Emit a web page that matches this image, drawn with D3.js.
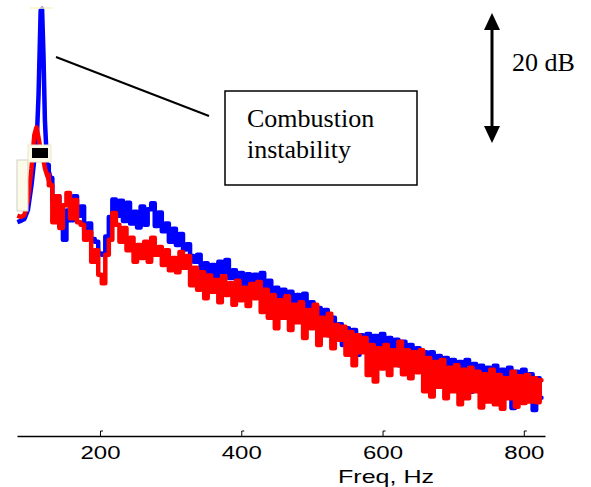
<!DOCTYPE html>
<html>
<head>
<meta charset="utf-8">
<script src="https://cdn.jsdelivr.net/npm/d3@7"></script>
<style>
  body { margin: 0; background: #fff; }
  svg { display: block; }
</style>
</head>
<body>
<div class="chart"></div>
<script>
// frequency grid (Hz)
const freq = [83, 88, 93, 98, 103, 107, 110, 113, 116, 118, 120, 122, 125,
  130, 135, 140, 145, 150, 155, 160, 165, 170, 175,
  180, 185, 190, 195, 200, 205, 210, 215, 220, 225,
  230, 235, 240, 245, 250, 255, 260, 265, 270, 275,
  280, 285, 290, 295, 300, 305, 310, 315, 320, 325,
  330, 335, 340, 345, 350, 355, 360, 365, 370, 375,
  380, 385, 390, 395, 400, 405, 410, 415, 420, 425,
  430, 435, 440, 445, 450, 455, 460, 465, 470, 475,
  480, 485, 490, 495, 500, 505, 510, 515, 520, 525,
  530, 535, 540, 545, 550, 555, 560, 565, 570, 575,
  580, 585, 590, 595, 600, 605, 610, 615, 620, 625,
  630, 635, 640, 645, 650, 655, 660, 665, 670, 675,
  680, 685, 690, 695, 700, 705, 710, 715, 720, 725,
  730, 735, 740, 745, 750, 755, 760, 765, 770, 775,
  780, 785, 790, 795, 800, 805, 810, 815, 820, 825]

// relative level, dB (blue = unstable case)
const blueDb = [-32.8, -32.6, -32.3, -30.9, -27.1, -23.2, -21.4, -13.2, -0.2, 0, -7.1, -17.1, -24.0,
  -26.0, -29.5, -28.8, -33.5, -35.5, -31.0, -32.5, -28.8, -31.8, -30.4,
  -33.9, -33.0, -35.4, -35.8, -37.6, -37.8, -35.0, -32.0, -29.3, -31.8,
  -29.5, -32.6, -29.8, -33.0, -31.2, -33.6, -30.4, -33.2, -30.8, -29.9,
  -33.4, -31.3, -34.2, -33.0, -35.8, -33.8, -36.3, -34.6, -37.0, -36.2,
  -38.0, -38.9, -37.8, -40.2, -39.1, -40.9, -39.4, -41.7, -38.9, -40.5,
  -38.6, -41.4, -40.2, -43.5, -40.6, -43.2, -40.8, -43.5, -40.9, -42.5,
  -40.6, -44.0, -41.8, -44.8, -42.9, -45.7, -43.2, -46.6, -43.5, -46.3,
  -44.0, -47.5, -43.8, -47.8, -45.1, -48.2, -46.0, -49.1, -46.3, -50.2,
  -47.5, -50.6, -48.5, -51.7, -49.1, -52.5, -49.4, -53.2, -50.2, -52.2,
  -50.0, -54.0, -50.3, -52.8, -50.0, -54.3, -50.6, -53.7, -50.9, -54.8,
  -51.2, -54.0, -51.7, -55.8, -52.2, -55.2, -52.8, -56.8, -52.8, -55.5,
  -53.4, -57.8, -53.7, -56.3, -54.0, -58.3, -54.3, -57.1, -54.0, -58.9,
  -54.6, -57.8, -54.9, -59.4, -55.2, -58.6, -54.9, -60.2, -55.5, -59.8,
  -55.2, -61.4, -55.8, -60.2, -55.5, -59.4, -56.2, -61.7, -56.8, -59.8]

// relative level, dB (red = stable case)
const redDb = [-31.8, -32.0, -31.7, -29.4, -24.5, -19.4, -18.2, -19.8, -21.7, -22.8, -23.2, -24.5, -25.5,
  -27.1, -32.8, -28.8, -33.7, -30.2, -28.3, -32.2, -29.4, -32.8, -33.2,
  -35.5, -34.3, -38.9, -37.1, -40.9, -42.2, -37.8, -35.5, -31.4, -33.2,
  -35.8, -33.7, -37.1, -35.2, -38.9, -36.3, -38.3, -35.8, -38.9, -35.2,
  -37.8, -36.6, -39.4, -37.1, -40.2, -38.3, -40.5, -37.4, -39.8, -38.0,
  -42.5, -39.8, -43.2, -40.5, -44.5, -41.0, -43.5, -41.7, -45.1, -41.1,
  -44.0, -42.2, -45.5, -41.8, -44.8, -42.9, -45.7, -42.3, -44.5, -42.0,
  -46.6, -43.2, -47.5, -44.0, -49.1, -44.8, -47.5, -44.2, -49.4, -45.5,
  -48.2, -45.1, -50.6, -46.3, -49.1, -45.5, -51.7, -47.5, -50.2, -46.9,
  -52.2, -48.6, -50.9, -48.9, -53.2, -49.7, -54.8, -50.2, -52.8, -50.6,
  -56.3, -51.7, -57.3, -52.2, -55.3, -51.7, -56.3, -52.5, -54.8, -51.2,
  -56.2, -52.5, -56.8, -52.8, -55.9, -52.5, -58.8, -53.7, -59.6, -54.3,
  -58.1, -54.0, -59.9, -55.2, -58.8, -54.8, -60.8, -55.5, -59.9, -55.2,
  -58.8, -55.8, -61.3, -56.2, -60.4, -55.5, -60.8, -56.3, -61.5, -56.8,
  -59.9, -55.8, -61.2, -56.5, -60.6, -56.3, -60.4, -56.8, -60.5, -57.1]

const xTicks = [200, 400, 600, 800]
const xLabel = "Freq, Hz"
const noteLines = ["Combustion", "instability"]
const scaleLabel = "20 dB"
const scaleDb = 20

const width = 591, height = 487

let svg = d3.select(".chart").append("svg")
    .attr("width", width)
    .attr("height", height)

let xScale = d3.scaleLinear()
    .domain([82.5, 830])
    .range([17, 545])

let yScale = d3.scaleLinear()
    .domain([-62, 0])
    .range([9 + 62 * 6.5, 9])

const axisY = 436

function series(values) {
    const n = Math.min(freq.length, values.length)
    return d3.range(n).map(i => ({ f: freq[i], v: values[i] }))
}

// plain line for the peak region, stepped line for the noisy part
let line = d3.line()
    .x(d => xScale(d.f))
    .y(d => yScale(d.v))
    .curve(d3.curveStep)

function drawSeries(values, colour) {
    const pts = series(values)
    svg.append("path")
        .datum(pts.filter(d => d.f <= 130))
        .attr("fill", "none")
        .attr("stroke", colour)
        .attr("stroke-width", 4.5)
        .attr("stroke-linejoin", "round")
        .attr("d", d3.line().x(d => xScale(d.f)).y(d => yScale(d.v)))
    svg.append("path")
        .datum(pts.filter(d => d.f >= 125))
        .attr("fill", "none")
        .attr("stroke", colour)
        .attr("stroke-width", 4.5)
        .attr("stroke-linejoin", "round")
        .attr("stroke-linecap", "round")
        .attr("d", line)
}

drawSeries(blueDb, "#0000ff")
drawSeries(redDb, "#ff0000")

// leftover legend bits from the original figure
svg.append("line")
    .attr("x1", 30).attr("x2", 53).attr("y1", 8).attr("y2", 8)
    .attr("stroke", "#fbf6c0").attr("stroke-width", 1.5)
svg.append("rect")
    .attr("x", 17).attr("y", 160).attr("width", 11).attr("height", 51)
    .attr("fill", "#fcfbea").attr("stroke", "#cfcfc4").attr("stroke-width", 1)
svg.append("rect")
    .attr("x", 28).attr("y", 145).attr("width", 23).attr("height", 17)
    .attr("fill", "#fcfbea").attr("stroke", "#e8e6cc").attr("stroke-width", 1)
svg.append("rect")
    .attr("x", 32).attr("y", 148).attr("width", 16).attr("height", 10)
    .attr("fill", "#000")

// x axis
let xAxis = d3.axisBottom(xScale)
    .tickValues(xTicks)
    .tickSize(-5)
    .tickSizeOuter(0)
    .tickFormat(d3.format("d"))

let gx = svg.append("g")
    .attr("transform", `translate(0, ${axisY})`)
    .call(xAxis)

gx.select(".domain").attr("stroke", "#000").attr("stroke-width", 1.3)
gx.selectAll(".tick line").attr("stroke", "#000").attr("stroke-width", 1)
gx.selectAll(".tick").append("line")
    .attr("x1", 0).attr("x2", 2.5).attr("y1", -5).attr("y2", -5)
    .attr("stroke", "#000").attr("stroke-width", 1)
gx.selectAll(".tick text")
    .attr("y", 23)
    .attr("dy", null)
    .attr("fill", "#000")
    .attr("font-family", "'Liberation Sans', Arial, sans-serif")
    .attr("font-size", 18)
    .attr("textLength", 40)
    .attr("lengthAdjust", "spacingAndGlyphs")

svg.append("text")
    .attr("x", 338).attr("y", 483)
    .attr("font-family", "'Liberation Sans', Arial, sans-serif")
    .attr("font-size", 19)
    .attr("textLength", 96)
    .attr("lengthAdjust", "spacingAndGlyphs")
    .text(xLabel)

// annotation
svg.append("line")
    .attr("x1", 56).attr("y1", 57)
    .attr("x2", 209).attr("y2", 116)
    .attr("stroke", "#000").attr("stroke-width", 2)

svg.append("rect")
    .attr("x", 225).attr("y", 91).attr("width", 192).attr("height", 94)
    .attr("fill", "#fff").attr("stroke", "#000").attr("stroke-width", 1.5)

svg.selectAll(".note")
    .data(noteLines)
    .join("text")
    .attr("class", "note")
    .attr("x", 247)
    .attr("y", (d, i) => 127 + i * 31)
    .attr("font-family", "'Liberation Serif', 'Times New Roman', serif")
    .attr("font-size", 26)
    .text(d => d)

// 20 dB scale arrow
const arrowX = 492
const arrowTop = 13
const arrowBot = arrowTop + scaleDb * 6.5
svg.append("line")
    .attr("x1", arrowX).attr("x2", arrowX)
    .attr("y1", arrowTop + 10).attr("y2", arrowBot - 10)
    .attr("stroke", "#000").attr("stroke-width", 3)
svg.append("path")
    .attr("d", `M${arrowX},${arrowTop} L${arrowX - 8},${arrowTop + 17} L${arrowX + 8},${arrowTop + 17} Z`)
    .attr("fill", "#000")
svg.append("path")
    .attr("d", `M${arrowX},${arrowBot} L${arrowX - 8},${arrowBot - 17} L${arrowX + 8},${arrowBot - 17} Z`)
    .attr("fill", "#000")
svg.append("text")
    .attr("x", 512).attr("y", 71)
    .attr("font-family", "'Liberation Serif', 'Times New Roman', serif")
    .attr("font-size", 26)
    .text(scaleLabel)
</script>
</body>
</html>
